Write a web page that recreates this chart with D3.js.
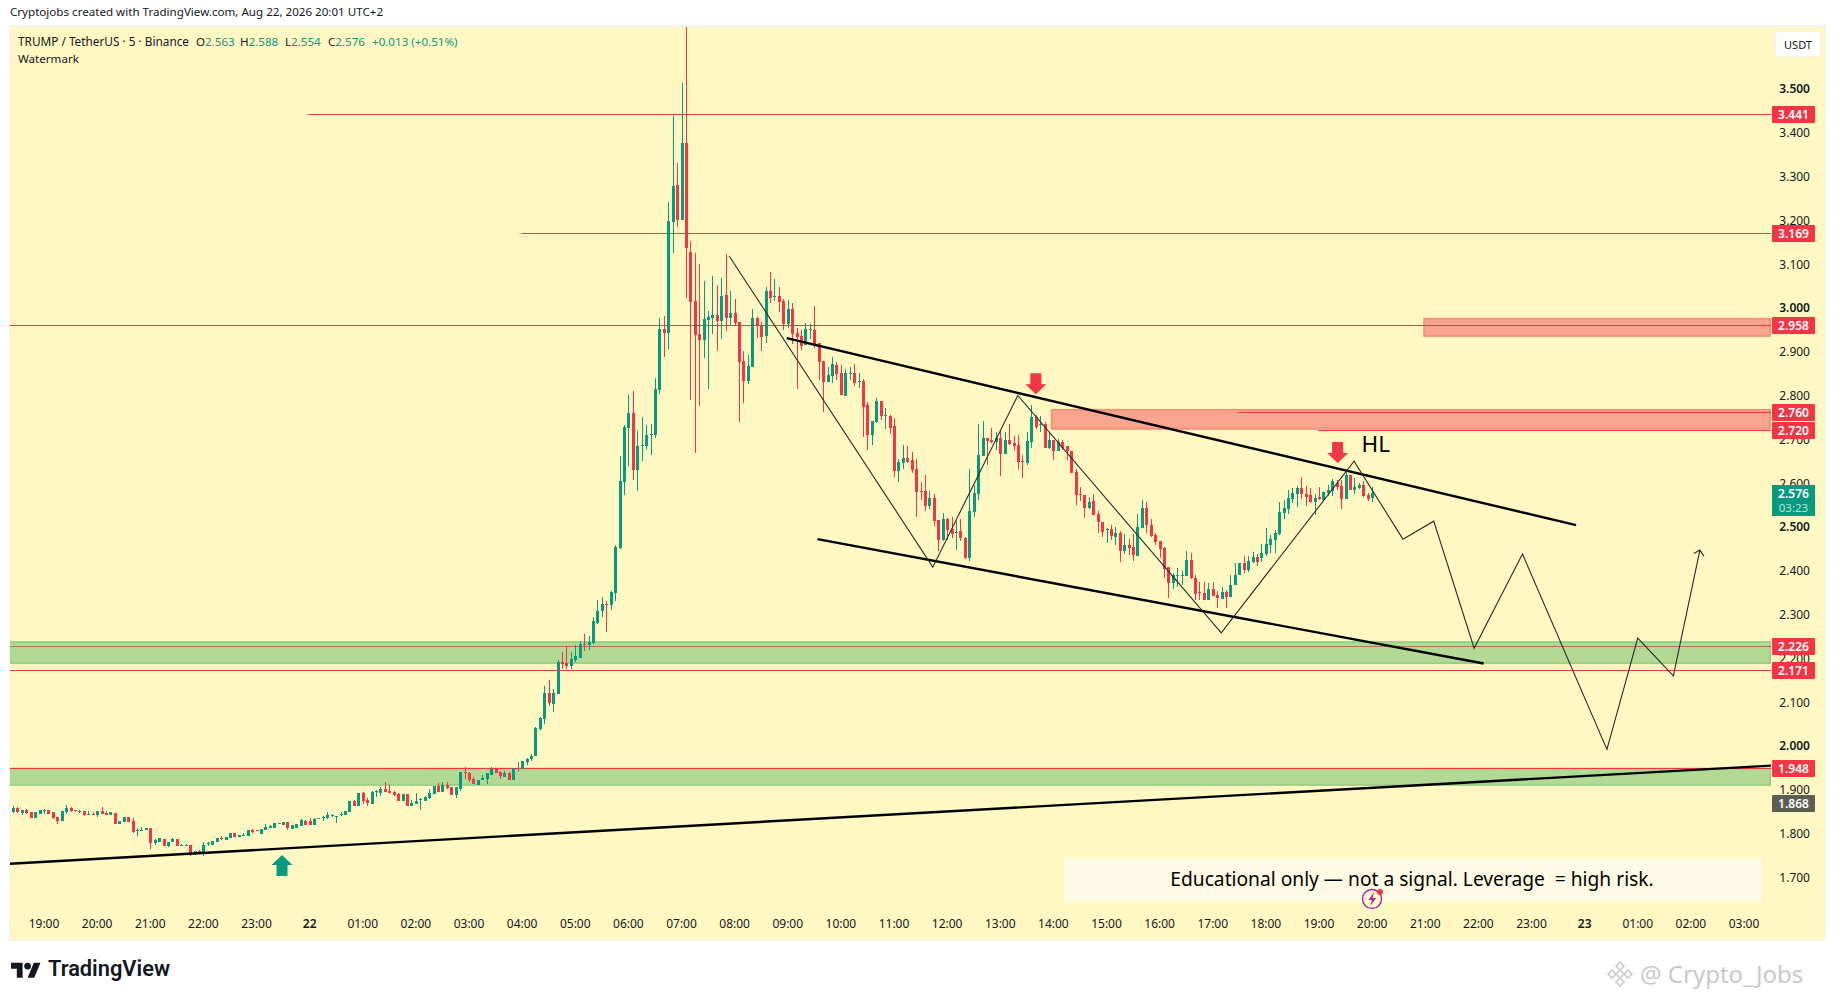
<!DOCTYPE html>
<html>
<head>
<meta charset="utf-8">
<script src="https://cdn.jsdelivr.net/npm/d3@7"></script>
<style>
  html, body { margin: 0; padding: 0; background: #fff; }
  svg { display: block; }
  text { font-family: "Noto Sans", sans-serif; }
</style>
</head>
<body>
<svg id="chart" width="1835" height="1000"></svg>
<script>
// 5 minute bars, first one is 18:25, last one is 20:00 the day after
var candleOpen = [
  1.848,1.857,1.844,1.852,1.847,1.833,1.843,1.850,1.852,1.846,
  1.836,1.827,1.846,1.856,1.851,1.848,1.849,1.841,1.843,1.840,
  1.849,1.845,1.841,1.845,1.820,1.825,1.836,1.827,1.803,1.804,
  1.805,1.811,1.777,1.779,1.785,1.769,1.779,1.785,1.770,1.770,
  1.772,1.753,1.758,1.753,1.773,1.772,1.779,1.788,1.783,1.788,
  1.798,1.789,1.792,1.792,1.805,1.805,1.797,1.806,1.811,1.811,
  1.821,1.818,1.824,1.808,1.811,1.816,1.827,1.827,1.817,1.831,
  1.834,1.833,1.838,1.838,1.841,1.841,1.848,1.872,1.861,1.890,
  1.875,1.866,1.893,1.890,1.900,1.895,1.893,1.889,1.872,1.888,
  1.861,1.865,1.874,1.872,1.879,1.889,1.906,1.893,1.909,1.903,
  1.886,1.900,1.938,1.937,1.922,1.909,1.919,1.922,1.932,1.946,
  1.939,1.928,1.935,1.921,1.947,1.946,1.961,1.969,1.975,2.037,
  2.060,2.118,2.094,2.117,2.189,2.187,2.180,2.194,2.199,2.231,
  2.228,2.233,2.279,2.306,2.322,2.320,2.347,2.450,2.600,2.724,
  2.758,2.628,2.683,2.683,2.708,2.708,2.811,2.950,2.941,3.194,
  3.279,3.199,3.374,3.126,3.014,2.938,2.925,2.970,2.975,2.982,
  2.968,3.027,2.975,2.986,2.966,2.877,2.831,2.863,2.975,2.959,
  2.934,3.037,3.023,3.025,3.014,2.961,2.995,2.941,2.934,2.913,
  2.948,2.947,2.918,2.877,2.829,2.843,2.868,2.849,2.797,2.847,
  2.849,2.829,2.831,2.776,2.708,2.737,2.785,2.751,2.751,2.728,
  2.626,2.644,2.655,2.651,2.630,2.580,2.580,2.546,2.564,2.514,
  2.468,2.516,2.493,2.484,2.489,2.473,2.427,2.532,2.573,2.660,
  2.701,2.696,2.692,2.701,2.665,2.696,2.690,2.685,2.648,2.644,
  2.692,2.749,2.731,2.733,2.678,2.696,2.671,2.692,2.683,2.671,
  2.623,2.573,2.571,2.541,2.557,2.528,2.509,2.491,2.493,2.475,
  2.484,2.443,2.457,2.452,2.431,2.496,2.541,2.502,2.480,2.466,
  2.450,2.406,2.370,2.386,2.386,2.386,2.422,2.381,2.349,2.347,
  2.331,2.356,2.342,2.333,2.349,2.338,2.365,2.388,2.416,2.400,
  2.418,2.429,2.427,2.436,2.457,2.468,2.482,2.530,2.539,2.562,
  2.573,2.587,2.573,2.571,2.555,2.566,2.559,2.575,2.580,2.598,
  2.591,2.562,2.616,2.582,2.587,2.594,2.571,2.563
];
var candleHigh = [
  1.861,1.859,1.852,1.854,1.847,1.846,1.852,1.854,1.852,1.847,
  1.836,1.849,1.863,1.859,1.851,1.852,1.849,1.849,1.847,1.849,
  1.859,1.850,1.847,1.845,1.827,1.836,1.836,1.833,1.810,1.813,
  1.811,1.811,1.785,1.787,1.785,1.778,1.788,1.785,1.775,1.775,
  1.772,1.758,1.760,1.779,1.779,1.781,1.787,1.792,1.790,1.798,
  1.798,1.795,1.798,1.805,1.808,1.805,1.808,1.819,1.817,1.823,
  1.821,1.824,1.824,1.818,1.819,1.830,1.829,1.833,1.833,1.833,
  1.838,1.846,1.842,1.839,1.846,1.849,1.872,1.874,1.890,1.893,
  1.880,1.895,1.898,1.905,1.916,1.909,1.895,1.891,1.889,1.888,
  1.874,1.890,1.878,1.884,1.899,1.907,1.913,1.916,1.916,1.903,
  1.903,1.938,1.949,1.939,1.928,1.920,1.931,1.937,1.950,1.946,
  1.941,1.940,1.938,1.947,1.961,1.963,1.970,1.979,2.041,2.065,
  2.135,2.148,2.127,2.194,2.212,2.225,2.212,2.228,2.238,2.254,
  2.249,2.292,2.331,2.338,2.329,2.352,2.457,2.660,2.731,2.799,
  2.808,2.717,2.749,2.731,2.733,2.838,2.975,2.979,3.240,3.436,
  3.329,3.511,3.639,3.151,3.123,3.098,3.059,2.991,3.071,3.050,
  3.066,3.121,3.037,3.018,2.966,2.900,2.890,2.995,2.977,2.966,
  3.046,3.080,3.064,3.046,3.018,3.016,3.009,2.952,2.947,2.963,
  2.961,3.002,2.918,2.877,2.863,2.886,2.875,2.868,2.859,2.863,
  2.870,2.849,2.836,2.783,2.740,2.792,2.785,2.770,2.753,2.747,
  2.653,2.685,2.683,2.669,2.653,2.600,2.616,2.580,2.573,2.514,
  2.530,2.518,2.521,2.512,2.516,2.475,2.630,2.594,2.733,2.740,
  2.701,2.724,2.715,2.719,2.715,2.733,2.706,2.708,2.662,2.715,
  2.776,2.753,2.751,2.737,2.712,2.696,2.699,2.696,2.683,2.671,
  2.630,2.589,2.571,2.566,2.573,2.534,2.509,2.496,2.502,2.498,
  2.489,2.482,2.471,2.482,2.528,2.559,2.555,2.516,2.484,2.466,
  2.452,2.406,2.393,2.404,2.397,2.443,2.438,2.388,2.372,2.372,
  2.370,2.372,2.352,2.361,2.354,2.388,2.416,2.416,2.431,2.431,
  2.441,2.436,2.459,2.496,2.480,2.491,2.555,2.559,2.582,2.587,
  2.591,2.612,2.591,2.587,2.573,2.589,2.578,2.594,2.607,2.605,
  2.605,2.626,2.616,2.610,2.598,2.603,2.575,2.588
];
var candleLow = [
  1.844,1.844,1.840,1.843,1.833,1.833,1.843,1.843,1.843,1.830,
  1.820,1.827,1.843,1.847,1.846,1.845,1.838,1.841,1.840,1.836,
  1.843,1.840,1.841,1.820,1.820,1.825,1.825,1.799,1.792,1.804,
  1.805,1.763,1.772,1.779,1.769,1.766,1.779,1.769,1.769,1.769,
  1.747,1.748,1.753,1.747,1.769,1.772,1.779,1.783,1.783,1.788,
  1.790,1.789,1.792,1.792,1.799,1.803,1.797,1.806,1.810,1.811,
  1.820,1.818,1.806,1.808,1.810,1.816,1.818,1.817,1.817,1.831,
  1.827,1.830,1.836,1.823,1.838,1.841,1.846,1.861,1.861,1.865,
  1.861,1.866,1.881,1.884,1.893,1.891,1.884,1.872,1.872,1.861,
  1.861,1.865,1.852,1.872,1.876,1.889,1.893,1.893,1.900,1.886,
  1.879,1.894,1.922,1.916,1.911,1.909,1.919,1.911,1.932,1.936,
  1.922,1.926,1.921,1.921,1.938,1.946,1.954,1.963,1.975,2.034,
  2.047,2.090,2.076,2.117,2.174,2.174,2.174,2.190,2.199,2.215,
  2.218,2.231,2.276,2.292,2.258,2.308,2.329,2.448,2.571,2.637,
  2.605,2.580,2.648,2.676,2.662,2.701,2.801,2.886,2.904,3.123,
  3.183,3.199,3.020,2.788,2.667,2.774,2.884,2.813,2.938,2.900,
  2.927,2.945,2.959,2.959,2.737,2.781,2.824,2.863,2.929,2.900,
  2.918,3.009,3.014,2.989,2.947,2.952,2.916,2.813,2.902,2.913,
  2.927,2.906,2.833,2.760,2.829,2.827,2.833,2.799,2.797,2.833,
  2.820,2.815,2.703,2.674,2.685,2.735,2.742,2.722,2.710,2.612,
  2.600,2.630,2.644,2.621,2.521,2.559,2.534,2.539,2.500,2.443,
  2.466,2.468,2.473,2.445,2.466,2.425,2.420,2.521,2.559,2.660,
  2.639,2.690,2.674,2.614,2.665,2.685,2.671,2.630,2.610,2.639,
  2.678,2.722,2.715,2.678,2.676,2.651,2.671,2.674,2.651,2.621,
  2.548,2.557,2.518,2.539,2.525,2.484,2.475,2.461,2.468,2.457,
  2.418,2.436,2.434,2.420,2.431,2.496,2.484,2.475,2.457,2.427,
  2.381,2.336,2.356,2.361,2.365,2.386,2.379,2.331,2.331,2.331,
  2.331,2.340,2.313,2.333,2.313,2.338,2.365,2.388,2.393,2.395,
  2.416,2.409,2.418,2.431,2.438,2.438,2.480,2.516,2.528,2.553,
  2.543,2.562,2.546,2.553,2.525,2.559,2.557,2.569,2.569,2.582,
  2.539,2.562,2.582,2.573,2.585,2.566,2.557,2.554
];
var candleClose = [
  1.857,1.846,1.852,1.845,1.833,1.846,1.852,1.852,1.843,1.833,
  1.827,1.849,1.856,1.849,1.850,1.849,1.840,1.843,1.841,1.849,
  1.843,1.841,1.847,1.820,1.827,1.836,1.825,1.801,1.805,1.805,
  1.811,1.777,1.782,1.787,1.769,1.778,1.785,1.769,1.772,1.772,
  1.752,1.757,1.754,1.771,1.776,1.781,1.787,1.786,1.790,1.798,
  1.790,1.794,1.794,1.805,1.801,1.803,1.808,1.813,1.814,1.823,
  1.820,1.824,1.811,1.818,1.819,1.829,1.818,1.817,1.831,1.833,
  1.836,1.840,1.840,1.839,1.843,1.849,1.872,1.861,1.890,1.873,
  1.868,1.893,1.894,1.900,1.893,1.891,1.886,1.872,1.889,1.861,
  1.868,1.872,1.876,1.881,1.890,1.907,1.893,1.909,1.902,1.886,
  1.903,1.938,1.936,1.920,1.911,1.920,1.925,1.935,1.946,1.936,
  1.929,1.937,1.921,1.947,1.946,1.963,1.969,1.976,2.039,2.061,
  2.118,2.097,2.118,2.189,2.186,2.180,2.196,2.203,2.231,2.228,
  2.235,2.283,2.306,2.322,2.320,2.349,2.452,2.603,2.726,2.758,
  2.628,2.683,2.685,2.708,2.710,2.813,2.950,2.941,3.196,3.276,
  3.199,3.374,3.135,3.011,2.936,2.925,2.973,2.977,2.982,2.968,
  3.025,2.975,2.986,2.963,2.875,2.831,2.865,2.975,2.957,2.932,
  3.037,3.020,3.025,3.011,2.961,2.995,2.938,2.932,2.911,2.950,
  2.950,2.911,2.875,2.829,2.845,2.870,2.847,2.799,2.849,2.849,
  2.827,2.831,2.772,2.708,2.740,2.785,2.751,2.753,2.724,2.626,
  2.646,2.655,2.646,2.628,2.578,2.578,2.546,2.564,2.512,2.468,
  2.516,2.491,2.482,2.486,2.473,2.427,2.534,2.575,2.662,2.701,
  2.694,2.692,2.701,2.665,2.696,2.687,2.683,2.646,2.646,2.694,
  2.749,2.726,2.733,2.678,2.696,2.671,2.692,2.678,2.671,2.621,
  2.571,2.571,2.541,2.555,2.525,2.509,2.486,2.493,2.477,2.484,
  2.443,2.457,2.450,2.434,2.498,2.541,2.502,2.477,2.464,2.447,
  2.402,2.370,2.388,2.388,2.388,2.422,2.381,2.345,2.347,2.331,
  2.356,2.340,2.336,2.349,2.338,2.365,2.388,2.416,2.400,2.420,
  2.429,2.418,2.438,2.459,2.471,2.484,2.532,2.541,2.564,2.575,
  2.587,2.573,2.566,2.555,2.564,2.562,2.578,2.582,2.603,2.589,
  2.562,2.616,2.582,2.589,2.594,2.569,2.562,2.576
];
var firstBarOffset = -7;   // bars before the 19:00 label
var barsPerHour = 12;

var priceTicks = [1.7,1.8,1.9,2.0,2.1,2.2,2.3,2.4,2.5,2.6,2.7,2.8,2.9,3.0,3.1,3.2,3.3,3.4,3.5];
var roundPrices = [2.0,2.5,3.0,3.5];
var timeLabels = ['19:00','20:00','21:00','22:00','23:00','22','01:00','02:00','03:00','04:00','05:00',
  '06:00','07:00','08:00','09:00','10:00','11:00','12:00','13:00','14:00','15:00','16:00','17:00',
  '18:00','19:00','20:00','21:00','22:00','23:00','23','01:00','02:00','03:00'];
var dayLabels = ['22','23'];

// horizontal levels: price, hour they start from (hours counted from the 19:00 label)
var levelPrice = [3.441,3.169,2.958,2.760,2.720,2.226,2.171,1.948];
var levelStart = [4.97,8.98,-1,22.47,23.98,-1,-1,-1];
var coveredLevel = 2.226;  // this one sits under its green zone

// [hour start, price top, price bottom], all reach the right side of the pane
var supplyZones = [[25.98,2.973,2.934],[18.97,2.765,2.722]];
var demandZones = [[-1,2.235,2.187],[-1,1.946,1.909]];

// thick trend lines [hour, price, hour, price]
var trendLines = [
  [13.98,2.929,28.84,2.502],
  [14.56,2.470,27.10,2.186],
  [-0.64,1.729,32.51,1.953]
];
var pathHours = [12.90,16.73,18.33,22.16,24.66,25.58,26.16,26.92,27.83,29.42,30.00,30.67,31.17];
var pathPrices = [3.116,2.406,2.798,2.256,2.648,2.470,2.511,2.221,2.436,1.990,2.244,2.158,2.445];

var upArrows = [[4.48,1.749]];
var downArrows = [[18.67,2.801],[24.35,2.644]];

var lastPrice = 2.576;
var countdown = '03:23';
var previousCloseLine = 1.868;

var GREEN = '#089981', RED = '#F23645', PANE = '#FFF8C2', INK = '#131722';

var svg = d3.select('#chart');
var paneL = 10, paneR = 1771, paneT = 27, paneB = 940, axisR = 1825;

var x = d3.scaleLinear().domain([0, 32]).range([44, 1744]);
var y = d3.scaleLinear().domain([1.7, 3.5]).range([876.4, 88]);

function txt(sel, xp, yp, s, size, fill, weight, anchor) {
  return sel.append('text').attr('x', xp).attr('y', yp).text(s)
    .attr('font-size', size).attr('fill', fill)
    .attr('font-weight', weight || 400).attr('text-anchor', anchor || 'start');
}

svg.append('rect').attr('x', 9).attr('y', 25).attr('width', 1817).attr('height', 916).attr('fill', '#F0F3FA');
svg.append('rect').attr('x', paneL).attr('y', paneT).attr('width', axisR - paneL).attr('height', paneB - paneT).attr('fill', PANE);

svg.append('defs').append('clipPath').attr('id', 'pane')
  .append('rect').attr('x', paneL).attr('y', paneT).attr('width', paneR - paneL).attr('height', paneB - paneT);

// title line over the pane
txt(svg, 10, 16, 'Cryptojobs created with TradingView.com, Aug 22, 2026 20:01 UTC+2', 11.6, INK);
txt(svg, 18, 46, 'TRUMP / TetherUS · 5 · Binance', 11.8, INK);
var ohlc = [['O','2.563',196],['H','2.588',240],['L','2.554',285],['C','2.576',328]];
ohlc.forEach(function(o) {
  var t = txt(svg, o[2], 46, o[0], 11.6, INK);
  t.append('tspan').attr('fill', GREEN).text(o[1]);
});
txt(svg, 372, 46, '+0.013 (+0.51%)', 11.6, GREEN);
txt(svg, 18, 63, 'Watermark', 11.6, INK);

// price axis first, the price labels go over it
var yAxis = svg.append('g').attr('transform', 'translate(1810,1)')
  .call(d3.axisLeft(y).tickValues(priceTicks).tickSize(0).tickPadding(0).tickFormat(d3.format('.3f')));
yAxis.select('.domain').remove();
yAxis.selectAll('text')
  .attr('font-family', '"Noto Sans", sans-serif').attr('font-size', 12).attr('fill', INK)
  .attr('font-weight', function(d) { return roundPrices.indexOf(d) >= 0 ? 600 : 400; });

var xAxis = svg.append('g').attr('transform', 'translate(-0.5,919)')
  .call(d3.axisBottom(x).tickValues(d3.range(timeLabels.length)).tickSize(0).tickPadding(0)
    .tickFormat(function(d) { return timeLabels[d]; }));
xAxis.select('.domain').remove();
xAxis.selectAll('text')
  .attr('font-family', '"Noto Sans", sans-serif').attr('font-size', 12).attr('fill', INK)
  .attr('font-weight', function(d) { return dayLabels.indexOf(timeLabels[d]) >= 0 ? 600 : 400; });

var plot = svg.append('g').attr('clip-path', 'url(#pane)');

// zones
function drawZones(zones, fill, border) {
  zones.forEach(function(z) {
    var top = y(z[1]), h = y(z[2]) - y(z[1]);
    plot.append('rect').attr('x', Math.max(x(z[0]), paneL - 2)).attr('y', top)
      .attr('width', paneR - 1 - Math.max(x(z[0]), paneL - 2)).attr('height', h)
      .attr('fill', fill).attr('stroke', border).attr('stroke-width', 2);
  });
}
drawZones(supplyZones, '#FAA58D', '#F8917A');
drawZones(demandZones, '#B3D994', '#9DCF85');

// levels
levelPrice.forEach(function(p, i) {
  plot.append('line').attr('x1', x(levelStart[i])).attr('x2', paneR)
    .attr('y1', Math.round(y(p)) + 0.5).attr('y2', Math.round(y(p)) + 0.5)
    .attr('stroke', p === coveredLevel ? '#BC6F55' : RED).attr('stroke-width', 1);
});

// candles
var bars = d3.range(candleOpen.length);
function barX(i) { return Math.round(x((i + firstBarOffset) / barsPerHour)); }
function barColor(i) { return candleClose[i] >= candleOpen[i] ? GREEN : RED; }

plot.selectAll('rect.wick').data(bars).enter().append('rect').attr('class', 'wick')
  .attr('x', barX)
  .attr('y', function(i) { return y(candleHigh[i]); })
  .attr('width', 1)
  .attr('height', function(i) { return y(candleLow[i]) - y(candleHigh[i]); })
  .attr('fill', barColor).attr('shape-rendering', 'crispEdges');

plot.selectAll('rect.body').data(bars).enter().append('rect').attr('class', 'body')
  .attr('x', function(i) { return barX(i) - 1; })
  .attr('y', function(i) { return y(Math.max(candleOpen[i], candleClose[i])); })
  .attr('width', 3)
  .attr('height', function(i) { return Math.max(1, Math.abs(y(candleOpen[i]) - y(candleClose[i]))); })
  .attr('fill', barColor).attr('shape-rendering', 'crispEdges');

// thick trend lines
trendLines.forEach(function(t) {
  plot.append('line').attr('x1', x(t[0])).attr('y1', y(t[1])).attr('x2', x(t[2])).attr('y2', y(t[3]))
    .attr('stroke', '#000').attr('stroke-width', 2.4);
});

// projected path with small head at its end
var pathLine = d3.line().x(function(d) { return x(d); }).y(function(d, i) { return y(pathPrices[i]); });
plot.append('path').attr('d', pathLine(pathHours)).attr('fill', 'none')
  .attr('stroke', '#2a2a2a').attr('stroke-width', 1.1).attr('stroke-linejoin', 'miter');
var tipX = x(pathHours[pathHours.length - 1]), tipY = y(pathPrices[pathPrices.length - 1]);
plot.append('path').attr('d', 'M' + (tipX - 6) + ',' + (tipY + 3.5) + 'L' + tipX + ',' + tipY + 'L' + (tipX + 4) + ',' + (tipY + 6))
  .attr('fill', 'none').attr('stroke', '#2a2a2a').attr('stroke-width', 1.1);

// block arrows, anchored on their tip
function blockArrow(a, dir, color) {
  var cx = x(a[0]), tip = y(a[1]);
  var d = [[0,0],[10.5,10],[5.5,10],[5.5,21],[-5.5,21],[-5.5,10],[-10.5,10]]
    .map(function(p) { return (cx + p[0]) + ',' + (tip + p[1] * dir); }).join(' ');
  plot.append('polygon').attr('points', d).attr('fill', color);
}
upArrows.forEach(function(a) { blockArrow(a, 1, GREEN); });
downArrows.forEach(function(a) { blockArrow(a, -1, RED); });

txt(plot, x(24.80), y(2.669), 'HL', 22.5, '#000');

// banner and the small flash mark
svg.append('rect').attr('x', 1064).attr('y', 858).attr('width', 698).attr('height', 44).attr('fill', '#FFFAE3');
txt(svg, 1412, 886, 'Educational only — not a signal. Leverage  = high risk.', 19.2, '#000', 400, 'middle').style('white-space', 'pre');
svg.append('circle').attr('cx', 1372).attr('cy', 899).attr('r', 9.5).attr('fill', PANE).attr('stroke', '#9C27B0').attr('stroke-width', 1.4);
svg.append('path').attr('d', 'M1374,892 L1368.5,900 L1372,900 L1370.5,906 L1376,898 L1372.5,898 Z').attr('fill', '#9C27B0');
svg.append('circle').attr('cx', 1380).attr('cy', 892).attr('r', 3).attr('fill', RED);

// price labels
function priceLabel(p, color) {
  var yc = Math.round(y(p)) + 0.5;
  svg.append('rect').attr('x', 1772).attr('y', yc - 8.5).attr('width', 43).attr('height', 17).attr('rx', 1).attr('fill', color);
  txt(svg, 1793.5, yc + 4.3, p.toFixed(3), 12, '#fff', 600, 'middle');
}
levelPrice.forEach(function(p) { priceLabel(p, RED); });
priceLabel(previousCloseLine, '#5D5D53');

var lastY = Math.round(y(lastPrice)) + 0.5;
svg.append('rect').attr('x', 1772).attr('y', lastY - 8.5).attr('width', 43).attr('height', 31).attr('fill', GREEN);
txt(svg, 1793.5, lastY + 4.3, lastPrice.toFixed(3), 12, '#fff', 600, 'middle');
txt(svg, 1793.5, lastY + 18, countdown, 11.5, '#B9E4DB', 400, 'middle');

// currency button
svg.append('rect').attr('x', 1775.5).attr('y', 31.5).attr('width', 45).attr('height', 25).attr('rx', 3)
  .attr('fill', '#fff').attr('stroke', '#F0F0EC');
txt(svg, 1798, 48.5, 'USDT', 11, INK, 400, 'middle');

// logo below the pane
var logo = svg.append('g').attr('transform', 'translate(11,959.5) scale(0.83)').attr('fill', INK);
logo.append('path').attr('d', 'M14 22H7V11H0V4h14v18zM28 22h-8l7.5-18h8L28 22z');
logo.append('circle').attr('cx', 20).attr('cy', 8).attr('r', 4);
txt(svg, 48, 976, 'TradingView', 21.8, INK, 600).style('font-family', 'Roboto, sans-serif');

// site watermark
var mark = svg.append('g').attr('transform', 'translate(1620,974)').attr('fill', 'none').attr('stroke', '#D5D5D5').attr('stroke-width', 2);
[[0,-8],[-8,0],[8,0],[0,8],[0,0]].forEach(function(c) {
  mark.append('path').attr('d', 'M' + c[0] + ',' + (c[1] - 4) + 'l4,4l-4,4l-4,-4z');
});
txt(svg, 1640, 983, '@ Crypto_Jobs', 24, '#C9C9C9');
</script>
</body>
</html>
